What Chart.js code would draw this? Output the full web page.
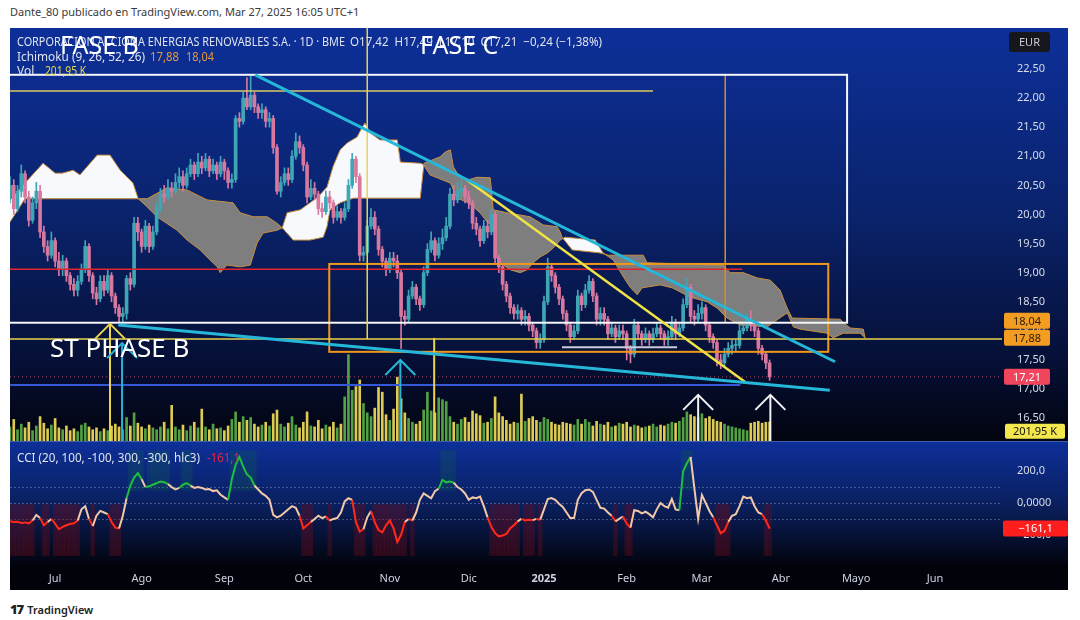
<!DOCTYPE html>
<html>
<head>
<meta charset="utf-8">
<script src="https://cdn.jsdelivr.net/npm/chart.js@4.4.1/dist/chart.umd.min.js"></script>
<style>
  body { margin: 0; width: 1080px; height: 620px; background: #fff; overflow: hidden; font-family: "Noto Sans", sans-serif; }
  #top { position: absolute; left: 10px; top: 4px; font-size: 11px; color: #3a3a3a; }
  #c1 { position: absolute; left: 10px; top: 28px; }
  #c2 { position: absolute; left: 10px; top: 441px; }
  #foot { position: absolute; left: 10px; top: 600px; font-size: 11px; color: #222; font-weight: 600; }
  #foot b { font-size: 13px; letter-spacing: -1px; margin-right: 4px; }
</style>
</head>
<body>
<div id="top">Dante_80 publicado en TradingView.com, Mar 27, 2025 16:05 UTC+1</div>
<canvas id="c1" width="1058" height="413"></canvas>
<canvas id="c2" width="1058" height="149"></canvas>
<div id="foot"><b>17</b>TradingView</div>
<script>
// bar index 0 = 1 Jul 2024, one bar per trading day
const firstBar = -12;
const firstOpen = 20.3;

const closes = [
  20.5,20.1,20.4,20.7,20.3,19.9,20.2,20.4,19.7,19.45,19.3,19.55,
  19.2,19.05,19.2,18.95,18.8,18.7,18.85,19.05,19.45,18.95,
  18.65,18.55,18.85,18.7,18.95,18.6,18.4,18.25,18.3,18.9,
  18.8,19.85,19.7,19.45,19.8,19.45,19.7,20.1,20.35,20.3,
  20.45,20.4,20.55,20.65,20.5,20.7,20.85,20.7,20.9,20.8,
  20.95,20.75,20.85,20.7,20.9,20.75,20.55,20.6,21.65,21.6,
  22.0,21.85,22.05,21.85,21.75,21.8,21.6,21.65,21.15,20.4,
  20.55,20.7,20.6,21.0,21.25,21.15,20.85,20.3,20.45,20.35,
  20.1,20.05,20.3,20.2,19.95,20.05,19.95,20.1,20.5,20.95,
  20.65,19.3,19.35,19.8,19.95,19.75,19.4,19.2,19.05,19.25,
  19.2,19.0,18.25,18.2,18.6,18.75,18.55,18.45,19.0,19.4,
  19.55,19.3,19.5,19.6,19.8,20.35,20.25,20.4,20.45,20.3,
  20.2,19.85,19.75,19.55,19.8,19.7,20.0,19.25,19.1,18.8,
  18.6,18.4,18.3,18.35,18.2,18.25,18.1,18.0,17.8,17.85,
  18.5,19.1,18.95,18.75,18.55,18.3,18.1,17.9,18.0,18.6,
  18.45,18.7,18.85,18.6,18.2,18.3,18.2,17.95,18.05,17.9,
  18.0,17.95,17.7,17.6,18.1,17.95,17.85,17.95,17.85,17.95,
  18.05,17.95,17.85,17.9,18.15,17.95,18.05,18.45,18.75,18.25,
  18.2,18.3,18.4,18.1,17.9,17.8,17.5,17.45,17.6,17.7,
  17.75,17.75,18.0,18.05,18.2,18.1,18.0,17.7,17.6,17.45,
  17.21
];
const highs = [
  20.65,20.6,20.5,20.85,20.75,20.4,20.3,20.55,20.5,19.8,19.55,19.7,
  19.6,19.35,19.3,19.25,19.0,18.9,18.95,19.15,19.55,19.5,
  19.0,18.75,18.95,18.95,19.05,19.0,18.65,18.45,18.4,18.95,
  19.0,19.95,19.95,19.75,19.9,19.85,19.8,20.2,20.45,20.5,
  20.6,20.55,20.7,20.8,20.75,20.8,20.95,20.9,21.05,21.0,
  21.05,21.0,20.95,20.9,21.0,20.95,20.8,20.7,21.7,21.75,
  22.1,22.35,22.4,22.1,21.9,21.9,21.85,21.75,21.7,21.2,
  20.65,20.8,20.8,21.1,21.4,21.35,21.2,20.9,20.6,20.55,
  20.4,20.2,20.4,20.4,20.25,20.15,20.1,20.2,20.6,21.05,
  21.0,20.7,19.45,19.9,20.1,20.05,19.8,19.45,19.25,19.35,
  19.35,19.3,19.05,18.35,18.7,18.85,18.8,18.6,19.1,19.5,
  19.7,19.6,19.6,19.75,19.95,20.45,20.5,20.55,20.6,20.5,
  20.4,20.25,19.95,19.8,19.9,19.9,20.1,20.05,19.3,19.15,
  18.85,18.65,18.45,18.45,18.4,18.35,18.3,18.15,18.05,17.95,
  18.6,19.25,19.15,19.0,18.8,18.6,18.35,18.15,18.1,18.7,
  18.65,18.8,18.95,18.9,18.65,18.4,18.4,18.25,18.15,18.1,
  18.1,18.1,18.0,17.75,18.2,18.15,18.0,18.05,18.0,18.05,
  18.15,18.1,18.0,18.0,18.25,18.2,18.15,18.55,18.9,18.8,
  18.35,18.45,18.5,18.45,18.15,17.95,17.85,17.6,17.7,17.8,
  17.85,17.85,18.1,18.15,18.3,18.35,18.15,18.05,17.75,17.65,
  17.5
];
const lows = [
  20.2,20.0,20.05,20.3,20.2,19.8,19.85,20.1,19.6,19.35,19.2,19.25,
  19.1,18.95,18.95,18.85,18.7,18.6,18.6,18.8,19.0,18.85,
  18.55,18.45,18.5,18.6,18.65,18.5,18.3,18.15,18.15,18.2,
  18.7,18.75,19.55,19.35,19.4,19.35,19.4,19.65,20.05,20.2,
  20.25,20.3,20.35,20.45,20.4,20.45,20.65,20.6,20.65,20.7,
  20.75,20.65,20.7,20.6,20.65,20.6,20.45,20.45,20.55,21.5,
  21.55,21.8,21.8,21.75,21.65,21.65,21.5,21.5,21.05,20.35,
  20.3,20.5,20.5,20.55,20.95,21.05,20.75,20.2,20.25,20.25,
  20.0,19.95,20.0,20.1,19.85,19.9,19.85,19.9,20.05,20.45,
  20.55,19.2,19.2,19.3,19.75,19.65,19.3,19.1,18.95,19.0,
  19.1,18.9,17.7,18.1,18.15,18.55,18.45,18.35,18.4,18.95,
  19.35,19.2,19.25,19.4,19.55,19.75,20.15,20.2,20.3,20.2,
  20.1,19.75,19.65,19.45,19.5,19.6,19.65,19.15,19.0,18.7,
  18.5,18.3,18.2,18.2,18.1,18.1,18.0,17.9,17.7,17.7,
  17.8,18.45,18.85,18.65,18.45,18.2,18.0,17.8,17.85,17.95,
  18.35,18.4,18.65,18.5,18.1,18.1,18.1,17.85,17.9,17.8,
  17.85,17.85,17.5,17.45,17.55,17.85,17.75,17.8,17.75,17.8,
  17.9,17.85,17.75,17.75,17.85,17.85,17.9,18.0,18.4,18.15,
  18.1,18.15,18.2,18.0,17.8,17.7,17.4,17.35,17.4,17.55,
  17.6,17.65,17.7,17.95,18.0,18.0,17.9,17.6,17.5,17.35,
  17.15
];
// volume in thousands
const volumes = [
  150,230,120,180,140,200,110,160,260,190,130,170,
  240,140,120,160,110,130,100,170,190,150,
  120,140,100,130,110,160,180,150,120,250,
  160,300,190,150,130,170,140,120,150,200,
  130,380,150,120,170,110,160,200,140,340,
  150,120,180,130,140,110,160,230,310,200,
  260,220,250,180,150,170,200,160,290,330,
  180,150,190,260,170,140,200,310,160,150,
  220,130,170,150,200,140,180,470,920,540,
  580,650,400,300,260,350,570,520,280,220,
  340,680,450,300,240,200,180,210,330,520,
  320,300,460,440,420,260,200,180,230,250,
  200,320,290,270,190,200,240,470,300,260,
  220,180,200,190,500,210,240,260,220,200,
  250,230,200,180,170,200,190,180,170,230,
  180,230,200,160,210,180,170,200,150,160,
  190,180,200,150,170,160,140,150,160,180,
  150,170,160,180,200,190,210,250,310,280,
  260,250,290,240,260,230,210,200,180,160,
  150,140,130,120,110,190,200,210,190,200,
  201.95
];
const cciValues = [
  -115,-120,-118,-125,-122,-128,-110,-75,-95,-140,-120,-100,
  -130,-165,-150,-140,-132,-128,-110,-40,-20,-100,
  -145,-80,-50,-60,-70,-120,-155,-160,-80,30,
  110,160,187,150,100,105,115,125,135,130,
  120,100,85,95,115,125,110,95,100,95,
  85,88,75,80,52,35,20,150,240,290,
  230,180,160,110,85,60,45,20,-75,-90,
  -80,-60,-40,-20,-30,-80,-160,-140,-120,-100,
  -80,-95,-85,-110,-100,-95,-60,10,30,20,
  -120,-180,-165,-90,-50,-120,-170,-185,-140,-110,
  -160,-245,-200,-120,-100,-110,-60,20,60,45,
  30,75,90,145,130,135,128,100,85,60,
  20,35,30,40,-20,-90,-150,-190,-210,-205,
  -195,-160,-140,-115,-100,-110,-105,-108,-100,-105,
  -40,25,31,20,-5,-25,-60,-95,-95,20,
  62,80,85,70,20,-30,-35,-60,-80,-115,
  -100,-85,-130,-155,-45,-50,-65,-55,-70,-90,
  -40,0,-20,-30,25,-40,-45,200,250,290,
  90,-100,50,0,-50,-90,-140,-190,-175,-120,
  -80,-70,-20,40,30,35,-20,-60,-70,-110,
  -161.1
];

// Ichimoku cloud edges as [bar, price], shifted 26 bars ahead
const spanA = [
  [-12,20.25],[-8,20.54],[-3.2,20.88],[0,20.71],[1.9,20.71],[4.8,20.76],[6.6,20.68],[8.5,20.82],[11.2,21.02],[14.6,21.02],[17.3,20.76],[20.7,20.54],[22.1,20.27],
  [24.5,20.13],[27.1,19.96],[32.4,19.73],[35.1,19.56],[38.6,19.39],[40.4,19.27],[43.1,19.10],[43.9,19.0],[45.7,19.13],[49.2,19.10],[51.9,19.13],[53.7,19.51],[55.3,19.68],[59.0,19.73],[60.4,19.77],
  [61.7,20.03],[65.2,20.08],[69.9,20.30],[72.3,20.47],[73.9,20.82],[75.8,21.11],[77.7,21.23],[80.3,21.33],[81.6,21.49],[82.4,21.57],[83.8,21.40],[86.4,21.28],[91.0,21.28],[91.8,20.90],[97.1,20.88],[97.9,20.86],
  [99.7,20.68],[105.1,20.54],[106.9,20.28],[109.6,20.21],[111.2,20.13],[113.0,20.03],[114.9,19.87],[116.5,19.79],[117.6,19.27],[118.4,19.17],[121.0,19.05],[123.7,19.0],[125.5,19.05],[127.1,19.17],[129.0,19.27],[130.9,19.34],[132.4,19.42],[134.3,19.56],[135.6,19.61],
  [143.6,19.56],[145.7,19.34],
  [148.4,19.22],[151.1,18.93],[152.9,18.75],[154.8,18.62],[156.1,18.74],[160.9,18.79],[164.1,18.74],[168.9,18.58],[173.4,18.50],[176.1,18.39],[178.7,18.22],[182.2,18.10],[189.4,18.07],[192.0,18.19],[194.7,18.31],[196.3,18.07],[198.1,18.03],[205.3,17.96],[206.9,17.88],[209.6,17.96],[214.1,17.96],[215.4,17.88]
];
const spanB = [
  [-12,19.87],[-8,20.27],[22.1,20.27],[24.5,20.27],[29.8,20.46],[35.1,20.42],[40.4,20.25],[47.3,20.20],[49.2,20.03],[52.7,19.96],[56.4,19.96],[59.0,19.85],[60.4,19.77],
  [63.3,19.56],[67.8,19.56],[71.3,19.61],[72.3,19.79],[73.1,20.08],[75.8,20.20],[79.3,20.28],[97.1,20.28],[98.1,20.88],
  [102.4,20.99],[103.7,21.07],[105.1,21.11],[105.9,20.82],[106.9,20.71],[109.6,20.59],[112.2,20.64],[115.7,20.63],[116.5,20.08],[120.2,20.03],[126.3,19.96],[129.8,19.82],[133.5,19.79],[134.3,19.70],[134.8,19.61],
  [137.5,19.39],[144.9,19.34],
  [147.1,19.30],[156.4,19.30],[157.4,19.17],[177.7,19.13],[179.5,19.0],[183.0,19.0],[186.7,18.91],[190.2,18.87],[192.8,18.70],[194.1,18.48],[194.9,18.36],[196.0,18.22],[208.8,18.20],[209.6,18.14],[211.4,18.05],[214.9,18.03],[215.4,17.88]
];

const monthTicks = [0,23,45,66,89,110,130,152,172,193,213,234];
const monthLabels = ['Jul','Ago','Sep','Oct','Nov','Dic','2025','Feb','Mar','Abr','Mayo','Jun'];
const priceTicks = [16.5,17,17.5,18,18.5,19,19.5,20,20.5,21,21.5,22,22.5];
const cciTicks = [200,0,-200];
const cciTickLabels = ['200,0','0,0000','−200,0'];
const cciLevels = [100,0,-100];

// drawings (bar, price)
const whiteBox = [-20, 210.6, 22.40, 18.14];
const orangeBox = [72.9, 205.6, 19.15, 17.64];
const yellowTopLine = [22.12, -20, 159];
const redLine = [19.06, -20, 182.7];
const yellowLevel = [17.86, -20, 260];
const blueLine = [17.07, -20, 182.2];
const greyLine = [17.72, 134.8, 165.4];
const lastPrice = 17.21;
const yellowVertical = [83.0, 23.5, 17.86];
const yellowVertical2 = [100.8, 17.88, 16.0];
const orangeVertical = [178.2, 22.40, 18.14];
const cyanUpper = [53.2, 22.40, 207.4, 17.47];
const cyanLower = [16.8, 18.10, 206.0, 16.98];
const yellowDiagonal = [109.6, 20.59, 183.5, 17.12];
const yellowArrows = [[14.6, 18.12]];
const cyanArrows = [[17.8, 17.79], [91.8, 17.50]];
const whiteArrows = [[171.0, 16.90], [190.2, 16.90]];

const xMin = -12, xMax = 251.8;
const priceMin = 16.108, priceMax = 23.204;
const volMax = 4400;

const bars = closes.map((c, k) => firstBar + k);
const opens = closes.map((c, k) => k === 0 ? firstOpen : closes[k - 1]);
const isUp = closes.map((c, k) => c >= opens[k]);
const UP = '#3fa6b6', DOWN = '#d9789f';

const fnt = (size, weight) => (weight || '') + ' ' + size + 'px "Noto Sans"';
function txt(ctx, s, x, y, color, size, maxW, weight) {
  ctx.font = fnt(size, weight);
  ctx.fillStyle = color;
  ctx.textAlign = 'left';
  ctx.textBaseline = 'alphabetic';
  if (maxW) ctx.fillText(s, x, y, maxW); else ctx.fillText(s, x, y);
}
function tag(ctx, s, x, yc, w, h, bg, fg) {
  ctx.fillStyle = bg;
  ctx.beginPath();
  ctx.roundRect(x, yc - h / 2, w, h, 2);
  ctx.fill();
  ctx.fillStyle = fg;
  ctx.font = fnt(11);
  ctx.textAlign = 'center';
  ctx.textBaseline = 'middle';
  ctx.fillText(s, x + w / 2, yc + 0.5);
}
// keep the plot area flush with the canvas edges
const fitRight = s => { s.width = 66; s.paddingTop = 0; s.paddingBottom = 0; };

const bg1 = {
  id: 'bg1',
  beforeDraw(chart) {
    const { ctx, width, height } = chart;
    const g = ctx.createLinearGradient(0, 0, 0, height);
    g.addColorStop(0, '#0d2f99');
    g.addColorStop(0.45, '#0a236c');
    g.addColorStop(0.8, '#061037');
    g.addColorStop(1, '#02040e');
    ctx.save();
    ctx.fillStyle = g;
    ctx.fillRect(0, 0, width, height);
    ctx.restore();
  }
};

const drawings = {
  id: 'drawings',
  afterDatasetsDraw(chart) {
    const { ctx, chartArea: a, scales } = chart;
    const X = v => scales.x.getPixelForValue(v);
    const Y = v => scales.y.getPixelForValue(v);
    ctx.save();
    ctx.beginPath();
    ctx.rect(a.left, a.top, a.right - a.left, a.bottom - a.top);
    ctx.clip();
    const seg = (x1, y1, x2, y2, color, w, dash) => {
      ctx.beginPath();
      ctx.setLineDash(dash || []);
      ctx.strokeStyle = color;
      ctx.lineWidth = w;
      ctx.moveTo(x1, y1);
      ctx.lineTo(x2, y2);
      ctx.stroke();
    };
    const box = (b, color, w) => {
      ctx.setLineDash([]);
      ctx.strokeStyle = color;
      ctx.lineWidth = w;
      ctx.strokeRect(X(b[0]), Y(b[2]), X(b[1]) - X(b[0]), Y(b[3]) - Y(b[2]));
    };
    const hl = (l, color, w, dash) => seg(X(l[1]), Y(l[0]), X(l[2]), Y(l[0]), color, w, dash);
    const vl = (l, color, w) => seg(X(l[0]), Y(l[1]), X(l[0]), Y(l[2]), color, w);
    const tl = (l, color, w) => seg(X(l[0]), Y(l[1]), X(l[2]), Y(l[3]), color, w);
    const arrow = (p, color) => {
      const x = X(p[0]), y = Y(p[1]);
      seg(x, y, x, a.bottom, color, 2);
      ctx.beginPath();
      ctx.moveTo(x - 15, y + 15);
      ctx.lineTo(x, y);
      ctx.lineTo(x + 15, y + 15);
      ctx.stroke();
    };

    seg(a.left, Y(lastPrice), a.right, Y(lastPrice), 'rgba(230,90,115,0.75)', 1, [1, 3]);
    hl(blueLine, '#3458d8', 2);
    hl(redLine, '#e0262c', 1.5);
    hl(yellowTopLine, '#d9cb62', 1.5);
    box(orangeBox, '#f0981c', 2);
    vl(orangeVertical, '#e08c22', 1.5);
    box(whiteBox, '#f4f6fa', 2);
    hl(yellowLevel, '#e9d24c', 1.5);
    hl(greyLine, '#c9cdd8', 2);
    vl(yellowVertical, '#ead54a', 1.5);
    vl(yellowVertical2, '#ead54a', 2);
    tl(yellowDiagonal, '#f1e246', 2.5);
    tl(cyanUpper, '#25b7d8', 3);
    tl(cyanLower, '#25b7d8', 3);
    yellowArrows.forEach(p => arrow(p, '#ead54a'));
    cyanArrows.forEach(p => arrow(p, '#28b4d6'));
    whiteArrows.forEach(p => arrow(p, '#f2f2f2'));
    ctx.restore();
  }
};

const overlay1 = {
  id: 'overlay1',
  afterDraw(chart) {
    const { ctx, chartArea: a, scales } = chart;
    const Y = v => scales.y.getPixelForValue(v);
    ctx.save();
    const light = '#dfe4ef';
    txt(ctx, 'CORPORACION ACCIONA ENERGIAS RENOVABLES S.A. · 1D · BME', 7, 18, light, 12, 328);
    txt(ctx, 'O17,42  H17,49  L17,10  C17,21  −0,24 (−1,38%)', 340, 18, light, 12, 252);
    txt(ctx, 'Ichimoku (9, 26, 52, 26)', 7, 33, light, 12, 128);
    txt(ctx, '17,88', 140, 33, '#e39a3b', 12, 29);
    txt(ctx, '18,04', 176, 33, '#e39a3b', 12, 28);
    txt(ctx, 'Vol', 7, 47, light, 12, 23);
    txt(ctx, '201,95 K', 35, 47, '#e6d94a', 12, 41);

    txt(ctx, 'FASE B', 50, 26, '#ffffff', 25);
    txt(ctx, 'FASE C', 410, 26, '#ffffff', 25);
    txt(ctx, 'ST PHASE B', 40, 329, '#ffffff', 26);

    // right scale labels
    const ax = a.right;
    ctx.fillStyle = '#15171d';
    ctx.beginPath();
    ctx.roundRect(ax + 7, 4, 41, 20, 3);
    ctx.fill();
    ctx.fillStyle = '#c9cdd6';
    ctx.font = fnt(11);
    ctx.textAlign = 'center';
    ctx.textBaseline = 'middle';
    ctx.fillText('EUR', ax + 27.5, 14.5);

    const yLow = Y(17.88);
    const yHigh = Math.min(Y(18.04), yLow - 17);
    tag(ctx, '18,04', ax + 2, yHigh, 46, 16, '#f29d22', '#2a1a05');
    tag(ctx, '17,88', ax + 2, yLow, 46, 16, '#f29d22', '#2a1a05');
    tag(ctx, '17,21', ax + 2, Y(lastPrice), 46, 16, '#f0455c', '#ffffff');
    const yVol = Math.max(scales.yv.getPixelForValue(volumes[volumes.length - 1]), Y(16.5) + 13);
    tag(ctx, '201,95 K', ax + 3, yVol, 60, 15, '#f3e74e', '#111111');
    ctx.restore();
  }
};

const wickData = bars.map((x, k) => ({ x, y: [Math.min(lows[k], opens[k], closes[k]), Math.max(highs[k], opens[k], closes[k])] }));
const bodyData = bars.map((x, k) => ({ x, y: [opens[k], closes[k]] }));
const volData = bars.map((x, k) => ({ x, y: volumes[k] }));
const candleColors = isUp.map(u => u ? UP : DOWN);
const volColors = isUp.map(u => u ? 'rgba(86,170,72,0.95)' : 'rgba(233,214,86,0.95)');

new Chart(document.getElementById('c1'), {
  type: 'bar',
  data: {
    datasets: [
      { type: 'bar', data: volData, yAxisID: 'yv', backgroundColor: volColors, barThickness: 2, grouped: false, order: 6 },
      { type: 'line', data: spanA.map(p => ({ x: p[0], y: p[1] })), yAxisID: 'y', borderColor: '#c98f3e', borderWidth: 1, pointRadius: 0, tension: 0,
        fill: { target: 2, above: '#f7f9fc', below: '#7e7e7e' }, order: 5 },
      { type: 'line', data: spanB.map(p => ({ x: p[0], y: p[1] })), yAxisID: 'y', borderColor: '#c98f3e', borderWidth: 1, pointRadius: 0, tension: 0, order: 4 },
      { type: 'bar', data: wickData, yAxisID: 'y', backgroundColor: candleColors, barThickness: 1, grouped: false, order: 2 },
      { type: 'bar', data: bodyData, yAxisID: 'y', backgroundColor: candleColors, barThickness: 3, minBarLength: 1, grouped: false, order: 1 }
    ]
  },
  options: {
    responsive: false,
    animation: false,
    layout: { padding: 0 },
    plugins: { legend: { display: false }, tooltip: { enabled: false } },
    scales: {
      x: { type: 'linear', min: xMin, max: xMax, offset: false, display: false, grid: { display: false } },
      y: {
        position: 'right', min: priceMin, max: priceMax,
        grid: { display: false, drawTicks: false }, border: { display: false },
        afterFit: fitRight,
        afterBuildTicks: s => { s.ticks = priceTicks.map(v => ({ value: v })); },
        ticks: { color: '#d5dbe8', padding: 15, font: { family: 'Noto Sans', size: 11 }, callback: v => v.toFixed(2).replace('.', ',') }
      },
      yv: { display: false, min: 0, max: volMax }
    }
  },
  plugins: [bg1, drawings, overlay1]
});

// CCI panel
const CCI_NEUTRAL = '#f2c8a8', CCI_LOW = '#ff2a1c', CCI_HIGH = '#1fbf3f';
const cciData = bars.map((x, k) => ({ x, y: cciValues[k] }));
const lowShade = bars.filter((x, k) => cciValues[k] < -100).map(x => ({ x, y: [-330, -10] }));
const highShade = bars.filter((x, k) => cciValues[k] > 100).map(x => ({ x, y: [80, 330] }));

const bg2 = {
  id: 'bg2',
  beforeDraw(chart) {
    const { ctx, width, height, chartArea: a } = chart;
    ctx.save();
    const g = ctx.createLinearGradient(0, a.top, 0, a.bottom);
    g.addColorStop(0, '#0d2f99');
    g.addColorStop(0.5, '#0a2060');
    g.addColorStop(1, '#02040e');
    ctx.fillStyle = g;
    ctx.fillRect(0, 0, width, a.bottom);
    ctx.fillStyle = '#02030a';
    ctx.fillRect(0, a.bottom, width, height - a.bottom);
    ctx.fillStyle = 'rgba(170,180,210,0.35)';
    ctx.fillRect(0, 0, width, 1);
    ctx.restore();
  },
  beforeDatasetsDraw(chart) {
    const { ctx, chartArea: a, scales } = chart;
    ctx.save();
    ctx.strokeStyle = 'rgba(150,160,190,0.45)';
    ctx.lineWidth = 1;
    ctx.setLineDash([2, 2]);
    cciLevels.forEach(v => {
      const y = Math.round(scales.y.getPixelForValue(v)) + 0.5;
      ctx.beginPath();
      ctx.moveTo(a.left, y);
      ctx.lineTo(a.right, y);
      ctx.stroke();
    });
    ctx.restore();
  },
  afterDraw(chart) {
    const { ctx, chartArea: a, scales } = chart;
    ctx.save();
    txt(ctx, 'CCI (20, 100, -100, 300, -300, hlc3)', 7, 21, '#dfe4ef', 12, 183);
    txt(ctx, '-161,1', 197, 21, '#e3284a', 12, 33);
    tag(ctx, '−161,1', a.right + 1, scales.y.getPixelForValue(cciValues[cciValues.length - 1]), 65, 16, '#ff1e1e', '#ffffff');
    ctx.restore();
  }
};

new Chart(document.getElementById('c2'), {
  type: 'bar',
  data: {
    datasets: [
      { type: 'line', data: cciData, borderWidth: 2, pointRadius: 0, tension: 0, borderColor: CCI_NEUTRAL,
        segment: { borderColor: c => c.p1.parsed.y < -100 ? CCI_LOW : (c.p1.parsed.y > 100 ? CCI_HIGH : CCI_NEUTRAL) }, order: 1 },
      { type: 'bar', data: lowShade, backgroundColor: 'rgba(110,12,28,0.38)', barThickness: 3.76, grouped: false, order: 3 },
      { type: 'bar', data: highShade, backgroundColor: 'rgba(20,110,70,0.2)', barThickness: 3.76, grouped: false, order: 3 }
    ]
  },
  options: {
    responsive: false,
    animation: false,
    layout: { padding: 0 },
    plugins: { legend: { display: false }, tooltip: { enabled: false } },
    scales: {
      x: {
        type: 'linear', min: xMin, max: xMax, offset: false, position: 'bottom',
        grid: { display: false, drawTicks: false }, border: { display: false },
        afterFit: s => { s.height = 25; s.paddingLeft = 0; s.paddingRight = 0; },
        afterBuildTicks: s => { s.ticks = monthTicks.map(v => ({ value: v })); },
        ticks: {
          autoSkip: false, maxRotation: 0, padding: 7, color: '#cdd3e0',
          font: c => ({ family: 'Noto Sans', size: 11, weight: c.tick && c.tick.value === monthTicks[6] ? 'bold' : 'normal' }),
          callback: v => monthLabels[monthTicks.indexOf(v)]
        }
      },
      y: {
        position: 'right', min: -390, max: 390,
        grid: { display: false, drawTicks: false }, border: { display: false },
        afterFit: fitRight,
        afterBuildTicks: s => { s.ticks = cciTicks.map(v => ({ value: v })); },
        ticks: { color: '#d5dbe8', padding: 15, font: { family: 'Noto Sans', size: 11 }, callback: v => cciTickLabels[cciTicks.indexOf(v)] }
      }
    }
  },
  plugins: [bg2]
});
</script>
</body>
</html>
